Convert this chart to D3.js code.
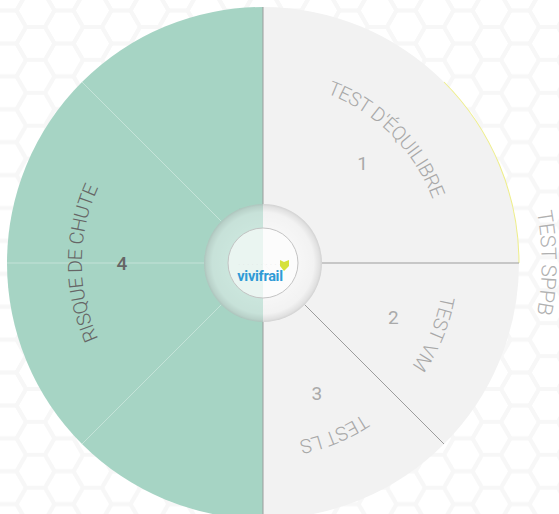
<!DOCTYPE html>
<html>
<head>
<meta charset="utf-8">
<script src="https://cdn.jsdelivr.net/npm/d3@7"></script>
<style>
  body { margin: 0; background: #fff; }
  svg { display: block; font-family: Roboto, "Noto Sans", sans-serif; }
</style>
</head>
<body>
<script>
// segments of the wheel, clockwise from the top
var segLabels = ["TEST D'ÉQUILIBRE", "TEST VM", "TEST LS", "RISQUE DE CHUTE"];
var segNumbers = ["1", "2", "3", "4"];
var segWeights = [2, 1, 1, 4];
var segParts = [1, 1, 1, 4];          // inner subdivisions of each segment
var segActive = [false, false, false, true];
// outer group label and which segments it spans
var groupLabels = ["TEST SPPB"];
var groupFrom = [0];
var groupTo = [2];
var logoText = "vivifrail";

var width = 559, height = 514;
var cx = 263, cy = 263;
var outerR = 256, ringR = 59, coreR = 35;

var colorIdle = "#f2f2f2", colorActive = "#a6d4c4";

var svg = d3.select("body").append("svg")
  .attr("width", width)
  .attr("height", height);

var defs = svg.append("defs");

// honeycomb background
var hexR = 19, hexH = Math.sqrt(3) * hexR;
var pat = defs.append("pattern")
  .attr("id", "hex")
  .attr("patternUnits", "userSpaceOnUse")
  .attr("width", 3 * hexR)
  .attr("height", hexH)
  .attr("patternTransform", "translate(7,27)");

function hexPath(x, y) {
  var pts = d3.range(6).map(function (i) {
    var a = Math.PI / 3 * i;
    return [x + hexR * Math.cos(a), y + hexR * Math.sin(a)];
  });
  return "M" + pts.join("L") + "Z";
}
[[0, 0], [0, hexH], [3 * hexR, 0], [3 * hexR, hexH], [1.5 * hexR, hexH / 2]].forEach(function (c) {
  pat.append("path")
    .attr("d", hexPath(c[0], c[1]))
    .attr("fill", "none")
    .attr("stroke", "#f7f7f7")
    .attr("stroke-width", 4);
});

svg.append("rect")
  .attr("width", width)
  .attr("height", height)
  .attr("fill", "url(#hex)");

// shading of the centre ring
var shade = defs.append("radialGradient").attr("id", "ringShade");
shade.append("stop").attr("offset", "0.55").attr("stop-color", "#000").attr("stop-opacity", 0);
shade.append("stop").attr("offset", "0.86").attr("stop-color", "#000").attr("stop-opacity", 0.02);
shade.append("stop").attr("offset", "0.96").attr("stop-color", "#000").attr("stop-opacity", 0.09);
shade.append("stop").attr("offset", "1").attr("stop-color", "#000").attr("stop-opacity", 0.15);

var g = svg.append("g").attr("transform", "translate(" + cx + "," + cy + ")");

var pie = d3.pie().sort(null).value(function (d) { return d; });
var slices = pie(segWeights);

function fillOf(i) { return segActive[i] ? colorActive : colorIdle; }

var bigArc = d3.arc().innerRadius(0).outerRadius(outerR);

g.selectAll("path.seg")
  .data(slices)
  .enter().append("path")
  .attr("class", "seg")
  .attr("d", bigArc)
  .attr("fill", function (d, i) { return fillOf(i); });

// thin highlight on the outer rim of the first segment
var rim = d3.arc().innerRadius(outerR - 0.5).outerRadius(outerR + 0.5)
  .startAngle(Math.PI / 4).endAngle(Math.PI / 2);
g.append("path").attr("d", rim()).attr("fill", "#eeee8a");

// faint subdivision lines inside a segment
var subAngles = [];
slices.forEach(function (d, i) {
  var step = (d.endAngle - d.startAngle) / segParts[i];
  for (var k = 1; k < segParts[i]; k++) subAngles.push(d.startAngle + step * k);
});
g.selectAll("line.sub")
  .data(subAngles)
  .enter().append("line")
  .attr("class", "sub")
  .attr("x1", function (a) { return d3.pointRadial(a, coreR)[0]; })
  .attr("y1", function (a) { return d3.pointRadial(a, coreR)[1]; })
  .attr("x2", function (a) { return d3.pointRadial(a, outerR)[0]; })
  .attr("y2", function (a) { return d3.pointRadial(a, outerR)[1]; })
  .attr("stroke", "#ffffff")
  .attr("stroke-opacity", 0.35)
  .attr("stroke-width", 1);

// segment borders
var borders = [];
slices.forEach(function (d, i) {
  if (!segActive[i]) { borders.push(d.startAngle); borders.push(d.endAngle); }
});
borders = Array.from(new Set(borders));
g.selectAll("line.border")
  .data(borders)
  .enter().append("line")
  .attr("class", "border")
  .attr("x1", function (a) { return d3.pointRadial(a, ringR)[0]; })
  .attr("y1", function (a) { return d3.pointRadial(a, ringR)[1]; })
  .attr("x2", function (a) { return d3.pointRadial(a, outerR)[0]; })
  .attr("y2", function (a) { return d3.pointRadial(a, outerR)[1]; })
  .attr("stroke", "#9c9c9c")
  .attr("stroke-width", 1);

// centre ring and core
var ringArc = d3.arc().innerRadius(coreR).outerRadius(ringR);
g.selectAll("path.ring")
  .data(slices)
  .enter().append("path")
  .attr("class", "ring")
  .attr("d", ringArc)
  .attr("fill", function (d, i) { return d3.interpolateRgb(fillOf(i), "#fff")(0.42); });

g.append("circle").attr("r", ringR).attr("fill", "url(#ringShade)");

var coreArc = d3.arc().innerRadius(0).outerRadius(coreR);
g.selectAll("path.core")
  .data(slices)
  .enter().append("path")
  .attr("class", "core")
  .attr("d", coreArc)
  .attr("fill", function (d, i) { return d3.interpolateRgb(fillOf(i), "#fff")(0.76); });

g.append("circle")
  .attr("r", coreR)
  .attr("fill", "none")
  .attr("stroke", "#c4c4c4")
  .attr("stroke-width", 1);

// logo
var logo = g.append("g").attr("transform", "translate(0,12)");
logo.append("text")
  .attr("x", -3).attr("y", -9)
  .attr("text-anchor", "middle")
  .attr("font-size", 5)
  .attr("fill", "#d8d8d8")
  .attr("letter-spacing", 1)
  .text("· · · · · · · · · ·");
logo.append("text")
  .attr("x", -3).attr("y", 6)
  .attr("text-anchor", "middle")
  .attr("font-size", 14.5)
  .attr("font-weight", "bold")
  .attr("letter-spacing", -0.3)
  .attr("fill", "#2f9ad6")
  .text(logoText);
logo.append("path")
  .attr("d", "M17,-15 L21,-13 L26,-15 L26,-9 L21,-4 L17,-9 Z")
  .attr("fill", "#d6e13a");

// curved labels (paths live in the wheel's own coordinates)
function labelPath(a0, a1, r) {
  var p = d3.path();
  p.arc(0, 0, r, a0 - Math.PI / 2, a1 - Math.PI / 2, false);
  return p.toString();
}

var labelR = 188;
slices.forEach(function (d, i) {
  defs.append("path")
    .attr("id", "lp" + i)
    .attr("d", labelPath(d.startAngle, d.endAngle, labelR));
});

g.selectAll("text.label")
  .data(slices)
  .enter().append("text")
  .attr("class", "label")
  .attr("dy", "0.35em")
  .attr("font-size", 19.5)
  .attr("font-weight", 300)
  .attr("fill", function (d, i) { return segActive[i] ? "#666666" : "#a8a8a8"; })
  .append("textPath")
  .attr("href", function (d, i) { return "#lp" + i; })
  .attr("startOffset", "50%")
  .attr("text-anchor", "middle")
  .text(function (d, i) { return segLabels[i]; });

// group labels outside the wheel
var groupR = 286;
groupLabels.forEach(function (lab, j) {
  defs.append("path")
    .attr("id", "gp" + j)
    .attr("d", labelPath(slices[groupFrom[j]].startAngle, slices[groupTo[j]].endAngle, groupR));
  g.append("text")
    .attr("dy", "0.35em")
    .attr("font-size", 21)
    .attr("font-weight", 300)
    .attr("fill", "#b0b0b0")
    .append("textPath")
    .attr("href", "#gp" + j)
    .attr("startOffset", "50%")
    .attr("text-anchor", "middle")
    .text(lab);
});

// numbers
var numArc = d3.arc().innerRadius(141).outerRadius(141);
g.selectAll("text.num")
  .data(slices)
  .enter().append("text")
  .attr("class", "num")
  .attr("transform", function (d) { return "translate(" + numArc.centroid(d) + ")"; })
  .attr("text-anchor", "middle")
  .attr("dy", "0.35em")
  .attr("font-size", 19)
  .attr("font-weight", function (d, i) { return segActive[i] ? 500 : 400; })
  .attr("fill", function (d, i) { return segActive[i] ? "#666666" : "#aaaaaa"; })
  .text(function (d, i) { return segNumbers[i]; });
</script>
</body>
</html>
